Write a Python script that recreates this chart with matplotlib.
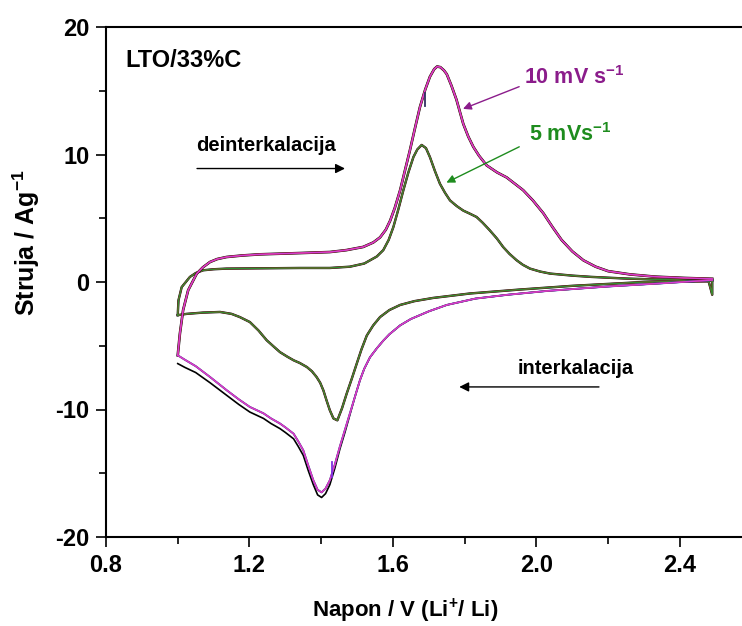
import matplotlib
matplotlib.use("Agg")
import matplotlib.pyplot as plt

plt.rcParams['font.family'] = ['Liberation Sans', 'DejaVu Sans']
plt.rcParams['font.weight'] = 'bold'
plt.rcParams['mathtext.fontset'] = 'custom'
plt.rcParams['mathtext.rm'] = 'Liberation Sans:bold'
plt.rcParams['mathtext.bf'] = 'Liberation Sans:bold'
plt.rcParams['mathtext.default'] = 'rm'
plt.rcParams['axes.unicode_minus'] = False

# 10 mV/s cycle: cathodic sweep (2.49 -> 1.0 V) then anodic sweep (1.0 -> 2.49 V)
v10_cat = [2.49, 2.35, 2.20, 2.03, 1.92, 1.83, 1.75, 1.70, 1.65, 1.62, 1.59, 1.573, 1.555, 1.536,
           1.52, 1.508, 1.494, 1.48, 1.466, 1.452, 1.438, 1.424, 1.412, 1.401, 1.39, 1.378, 1.364,
           1.35, 1.336, 1.323, 1.30, 1.285, 1.26, 1.239, 1.201, 1.17, 1.137, 1.09, 1.05, 1.02, 1.0]
i10_cat = [0.15, -0.1, -0.35, -0.7, -1.0, -1.3, -1.8, -2.3, -2.9, -3.4, -4.1, -4.6, -5.2, -5.9,
           -6.8, -7.7, -9.0, -10.3, -11.6, -12.9, -14.3, -15.55, -16.2, -16.5, -16.3, -15.55, -14.4,
           -13.2, -12.5, -11.9, -11.4, -11.1, -10.7, -10.3, -9.8, -9.2, -8.5, -7.45, -6.6, -6.1, -5.75]
i10_cat_black = [0.15, -0.1, -0.35, -0.7, -1.0, -1.3, -1.8, -2.3, -2.9, -3.4, -4.1, -4.6, -5.2, -5.9,
                 -6.8, -7.7, -9.0, -10.4, -11.8, -13.1, -14.6, -15.9, -16.6, -16.9, -16.7, -15.9, -14.8,
                 -13.6, -12.9, -12.3, -11.8, -11.5, -11.1, -10.7, -10.2, -9.6, -8.9, -7.9, -7.1, -6.7, -6.4]
v10_an = [1.0, 1.006, 1.015, 1.029, 1.053, 1.07, 1.09, 1.11, 1.136, 1.18, 1.229, 1.341, 1.424,
          1.47, 1.517, 1.545, 1.564, 1.58, 1.592, 1.605, 1.62, 1.633, 1.647, 1.66, 1.675, 1.69,
          1.703, 1.715, 1.723, 1.732, 1.742, 1.75, 1.763, 1.777, 1.796, 1.81, 1.824, 1.84, 1.861,
          1.89, 1.917, 1.94, 1.963, 1.99, 2.019, 2.045, 2.07, 2.10, 2.131, 2.165, 2.20, 2.26,
          2.33, 2.41, 2.49]
i10_an = [-5.75, -4.05, -2.2, -0.65, 0.66, 1.15, 1.57, 1.8, 1.96, 2.08, 2.17, 2.27, 2.35,
          2.5, 2.75, 3.1, 3.5, 4.1, 4.8, 5.8, 7.2, 8.7, 10.3, 11.9, 13.7, 15.1,
          16.1, 16.7, 16.9, 16.85, 16.6, 16.3, 15.4, 14.3, 12.4, 11.4, 10.6, 9.9, 9.15,
          8.6, 8.2, 7.7, 7.2, 6.4, 5.4, 4.3, 3.3, 2.4, 1.7, 1.2, 0.85, 0.6,
          0.42, 0.32, 0.25]

# 5 mV/s cycle
v5_cat = [2.49, 2.49, 2.48, 2.30, 2.10, 1.95, 1.815, 1.712, 1.66, 1.62, 1.59, 1.564, 1.545, 1.527,
          1.512, 1.499, 1.485, 1.471, 1.458, 1.445, 1.434, 1.424, 1.415, 1.406, 1.397, 1.387, 1.374,
          1.36, 1.34, 1.323, 1.305, 1.285, 1.265, 1.248, 1.225, 1.201, 1.173, 1.15, 1.118, 1.07,
          1.025, 1.0]
i5_cat = [0.1, -1.0, 0.05, 0.0, -0.3, -0.6, -0.9, -1.25, -1.5, -1.8, -2.2, -2.75, -3.4, -4.2,
          -5.3, -6.4, -7.6, -8.75, -9.9, -10.85, -10.7, -10.06, -9.3, -8.5, -7.9, -7.45, -7.0,
          -6.67, -6.35, -6.14, -5.85, -5.5, -5.0, -4.57, -3.8, -3.14, -2.75, -2.5, -2.35, -2.4,
          -2.5, -2.6]
v5_an = [1.0, 1.002, 1.011, 1.034, 1.05, 1.071, 1.10, 1.136, 1.341, 1.424, 1.48, 1.52, 1.536,
         1.555, 1.573, 1.588, 1.601, 1.615, 1.629, 1.643, 1.657, 1.668, 1.68, 1.692, 1.703, 1.717,
         1.731, 1.745, 1.759, 1.778, 1.796, 1.815, 1.833, 1.85, 1.87, 1.89, 1.907, 1.925, 1.945,
         1.962, 1.982, 2.01, 2.038, 2.10, 2.153, 2.25, 2.33, 2.41, 2.49]
i5_an = [-2.6, -1.44, -0.4, 0.4, 0.7, 0.92, 1.0, 1.05, 1.1, 1.1, 1.2, 1.45, 1.7,
         2.0, 2.5, 3.3, 4.3, 5.7, 7.2, 8.6, 9.8, 10.4, 10.75, 10.5, 9.8, 8.7,
         7.7, 7.0, 6.4, 5.95, 5.6, 5.35, 5.1, 4.65, 4.05, 3.4, 2.75, 2.2, 1.7,
         1.35, 1.05, 0.82, 0.66, 0.5, 0.4, 0.27, 0.2, 0.15, 0.1]

# short segments where the 10 mV/s cycles start/stop
tick_an_v = [1.688, 1.688]
tick_an_i = [13.8, 14.8]
tick_cat_v = [1.429, 1.429]
tick_cat_i = [-14.1, -15.3]

magenta = '#d63cd6'
green = '#2f8f2f'
purple_txt = '#8b1c8b'
green_txt = '#1e8c1e'

fig = plt.figure(figsize=(7.42, 6.26), dpi=100)
ax = fig.add_axes([106/742, 1-537/626, 636/742, 510/626])

# 5 mV/s
ax.plot(v5_cat, i5_cat, color='black', lw=1.7)
ax.plot(v5_an, i5_an, color='black', lw=1.7)
ax.plot(v5_cat, i5_cat, color='#b03030', lw=1.2)
ax.plot(v5_an, i5_an, color='#b03030', lw=1.2)
ax.plot(v5_cat, i5_cat, color=green, lw=0.9)
ax.plot(v5_an, i5_an, color=green, lw=0.9)

# 10 mV/s
ax.plot(v10_cat, i10_cat_black, color='black', lw=1.2)
ax.plot(v10_an, i10_an, color='black', lw=1.9)
ax.plot(v10_cat, i10_cat, color='#3050d0', lw=1.4)
ax.plot(v10_cat, i10_cat, color='#c03040', lw=1.1)
ax.plot(v10_an, i10_an, color='#c03040', lw=1.4)
ax.plot(v10_cat, i10_cat, color=magenta, lw=1.0)
ax.plot(v10_an, i10_an, color=magenta, lw=1.0)
ax.plot(tick_an_v, tick_an_i, color='#303060', lw=1.3)
ax.plot(tick_cat_v, tick_cat_i, color='#8030e0', lw=1.3)

ax.set_xlim(0.8, 2.573)
ax.set_ylim(-20, 20)
ax.set_xticks([0.8, 1.2, 1.6, 2.0, 2.4])
ax.set_xticks([1.0, 1.4, 1.8, 2.2], minor=True)
ax.set_yticks([-20, -10, 0, 10, 20])
ax.set_yticks([-15, -5, 5, 15], minor=True)
ax.set_xticklabels(['0.8', '1.2', '1.6', '2.0', '2.4'])
ax.set_yticklabels(['-20', '-10', '0', '10', '20'])
ax.tick_params(axis='both', which='major', direction='out', length=7, width=1.2,
               labelsize=17, pad=5)
ax.tick_params(axis='both', which='minor', direction='out', length=5, width=1.2)
ax.tick_params(top=False, right=False)
for s in ['left', 'bottom', 'top']:
    ax.spines[s].set_linewidth(1.5)
ax.spines['right'].set_visible(False)

ax.set_xlabel(r'Napon / V (Li$^{+}$/ Li)', fontsize=16, fontweight='bold')
ax.set_ylabel(r'Struja / Ag$^{-1}$', fontsize=18, fontweight='bold')
ax.xaxis.set_label_coords(0.47, -0.118)
ax.yaxis.set_label_coords(-0.10, 0.578)

ax.text(0.853, 17.4, 'LTO/33%C', fontsize=17, fontweight='bold', va='center', ha='left')
ax.text(1.245, 10.7, 'deinterkalacija', fontsize=14.5, fontweight='bold', va='center', ha='center')
ax.annotate('', xy=(1.474, 8.9), xytext=(1.046, 8.9),
            arrowprops=dict(arrowstyle='-|>', color='black', lw=1.0, mutation_scale=14))
ax.text(2.11, -6.8, 'interkalacija', fontsize=14.5, fontweight='bold', va='center', ha='center')
ax.annotate('', xy=(1.777, -8.23), xytext=(2.182, -8.23),
            arrowprops=dict(arrowstyle='-|>', color='black', lw=1.0, mutation_scale=14))

ax.text(1.965, 16.0, r'10 mV s$^{-1}$', fontsize=15.5, fontweight='bold', color=purple_txt,
        va='center', ha='left')
ax.annotate('', xy=(1.788, 13.5), xytext=(1.959, 15.4),
            arrowprops=dict(arrowstyle='-|>', color=purple_txt, lw=1.0, mutation_scale=12))
ax.text(1.98, 11.6, r'5 mVs$^{-1}$', fontsize=15.5, fontweight='bold', color=green_txt,
        va='center', ha='left')
ax.annotate('', xy=(1.742, 7.7), xytext=(1.959, 10.7),
            arrowprops=dict(arrowstyle='-|>', color=green_txt, lw=1.0, mutation_scale=12))

fig.savefig('out.png', dpi=100)
